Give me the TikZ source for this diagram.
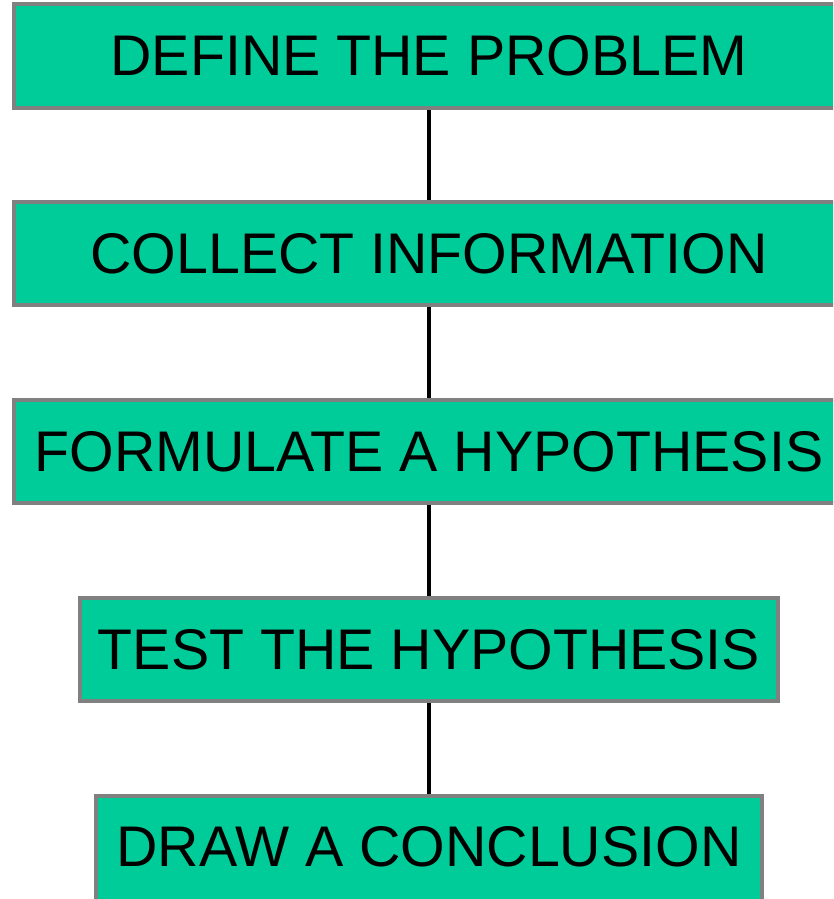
\documentclass[tikz,border=0pt]{standalone}
\usepackage{fontspec}
\setmainfont{Liberation Sans}
\definecolor{boxfill}{HTML}{00CC99}
\definecolor{boxline}{HTML}{808080}
\begin{document}
\begin{tikzpicture}[x=1pt,y=-1pt,
  stepbox/.style={draw=boxline, line width=4pt, fill=boxfill, inner sep=0pt,
    minimum height=103pt, font=\fontsize{57.3}{57.3}\selectfont, text=black},
  link/.style={draw=black, line width=4pt}]
\useasboundingbox (0,0) rectangle (833,899);
\clip (0,0) rectangle (833,899);
\node[stepbox, minimum width=830pt] (s1) at (429,56) {DEFINE THE PROBLEM};
\node[stepbox, minimum width=830pt] (s2) at (429,253.8) {COLLECT INFORMATION};
\node[stepbox, minimum width=830pt] (s3) at (429,451.6) {FORMULATE A HYPOTHESIS};
\node[stepbox, minimum width=698.5pt] (s4) at (429,649.6) {TEST THE HYPOTHESIS};
\node[stepbox, minimum width=666pt, minimum height=111pt, text depth=10pt] (s5) at (429,851) {DRAW A CONCLUSION};
\draw[link] (s1.south) -- (s2.north);
\draw[link] (s2.south) -- (s3.north);
\draw[link] (s3.south) -- (s4.north);
\draw[link] (s4.south) -- (s5.north);
\end{tikzpicture}
\end{document}
